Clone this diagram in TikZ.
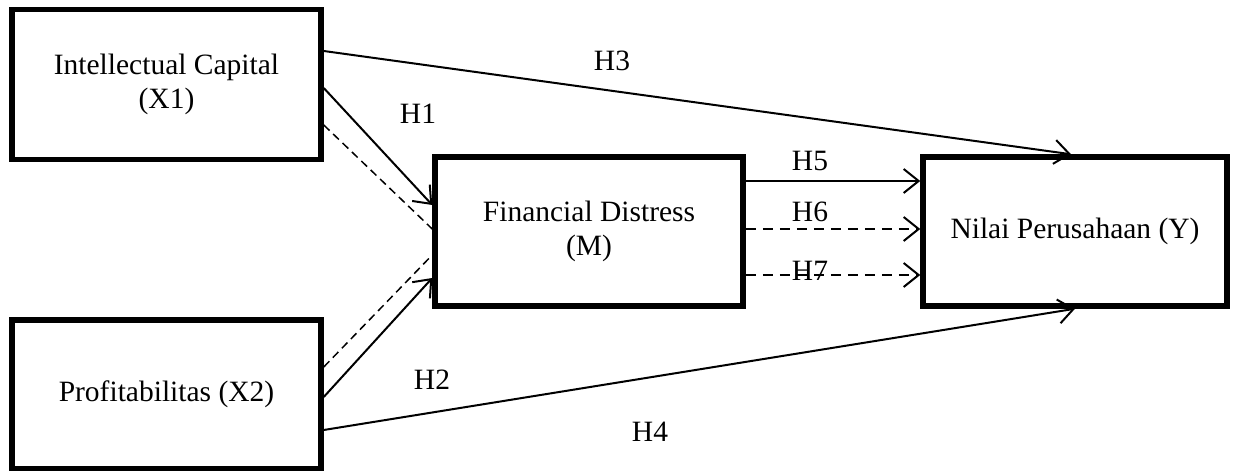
\documentclass[tikz,border=0pt]{standalone}
\usepackage{fontspec}
\setmainfont{Liberation Serif}
\usetikzlibrary{arrows.meta, positioning, calc}

\begin{document}
\begin{tikzpicture}[x=1pt, y=1pt,
    varbox/.style={draw, rectangle, line width=5.5pt, minimum width=309pt, minimum height=150pt,
        inner sep=0pt, align=center, font=\fontsize{29.5}{34}\selectfont},
    effect/.style={line width=2pt, -{Straight Barb[length=15pt, width=24pt, line width=2pt]}},
    indirect/.style={line width=1.5pt, dash pattern=on 8pt off 5pt},
    dashedeffect/.style={effect, dash pattern=on 10pt off 7pt},
    hyp/.style={font=\fontsize{29.5}{34}\selectfont}]
    % Canvas
    \path[use as bounding box, fill=white] (0,0) rectangle (1234,471);

    % Variables
    \node[varbox] (x1) at (166.5,386.5) {Intellectual Capital\\(X1)};
    \node[varbox, minimum height=149pt] (x2) at (166.5,76.5) {Profitabilitas (X2)};
    \node[varbox, minimum width=308pt, minimum height=149pt] (m) at (589,239.5) {Financial Distress\\(M)};
    \node[varbox, minimum width=304pt, minimum height=149pt] (y) at (1075,239.5) {Nilai Perusahaan (Y)};

    % Direct paths
    \draw[effect] ([yshift=33.5pt]x1.east) -- ([xshift=-4pt]y.north);
    \draw[effect] ([yshift=-3.5pt]x1.east) -- ([yshift=26.5pt]m.west);
    \draw[effect] ([yshift=-2.5pt]x2.east) -- ([yshift=-46.5pt]m.west);
    \draw[effect] ([yshift=-35.5pt]x2.east) -- (y.south);

    % Paths through M
    \draw[indirect] ([yshift=-40.5pt]x1.east) -- ([yshift=2.5pt]m.west);
    \draw[indirect] ([yshift=27.5pt]x2.east) -- ([yshift=-23.5pt]m.west);
    \draw[effect] ([yshift=50.5pt]m.east) -- ([yshift=50.5pt]y.west);
    \draw[dashedeffect] ([yshift=2.5pt]m.east) -- ([yshift=2.5pt]y.west);
    \draw[dashedeffect] ([yshift=-43.5pt]m.east) -- ([yshift=-43.5pt]y.west);

    % Hypothesis labels
    \node[hyp] (h1) at (418,357) {H1};
    \node[hyp] (h2) at (432,91) {H2};
    \node[hyp] (h3) at (612,410) {H3};
    \node[hyp] (h4) at (650,39) {H4};
    \node[hyp] (h5) at (810,310) {H5};
    \node[hyp] (h6) at (810,259) {H6};
    \node[hyp] (h7) at (810,200) {H7};
\end{tikzpicture}
\end{document}
